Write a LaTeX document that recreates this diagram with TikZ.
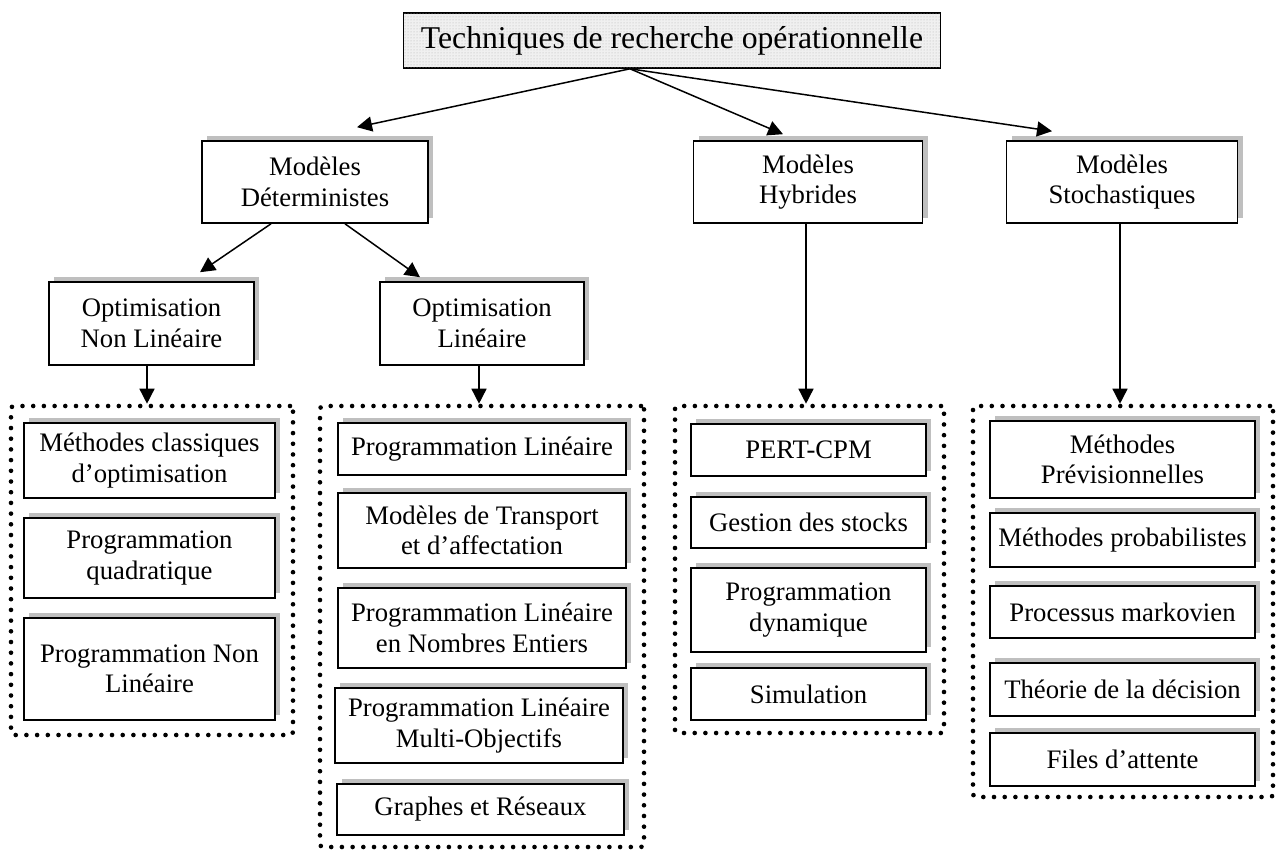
\documentclass[tikz,border=0pt]{standalone}
\usepackage{fontspec}
\setmainfont{Liberation Serif}
\usetikzlibrary{calc,arrows.meta,shadows,patterns}
\tikzset{
	% ---- default
	every path/.style={line width=1.6pt},
	every node/.style={font=\fontsize{26.7}{30.5}\selectfont},
	% ---- custom
	title box/.style={draw, rectangle, inner sep=0pt, fill=gray!12,
		postaction={pattern=dots, pattern color=gray!60},
		font=\fontsize{31.7}{36}\selectfont},
	model box/.style={draw, rectangle, inner sep=0pt, align=center, fill=white,
		drop shadow={shadow xshift=5pt, shadow yshift=5pt, fill=gray!50, opacity=1}},
	method frame/.style={draw, rectangle, inner sep=0pt, line width=4.6pt,
		dash pattern=on 0pt off 10.7pt, line cap=round, rounded corners=3pt},
	link/.style={-{Triangle[length=15pt, width=15pt]}, line width=1.5pt},
}

\begin{document}
\begin{tikzpicture}[x=1pt, y=-1pt]

	\useasboundingbox (0,0) rectangle (1277,851);

% racine %{{{2

	\node[title box, minimum width=537pt, minimum height=55pt] (TRO) at (672,40.5)
		{Techniques de recherche opérationnelle};

% modeles %{{{2

	\node[model box, minimum width=226pt, minimum height=82pt] (MD) at (315,182)
		{Modèles\\Déterministes};
	\node[model box, minimum width=229pt, minimum height=82pt] (MH) at (808,182)
		{Modèles\\Hybrides};
	\node[model box, minimum width=231pt, minimum height=82pt] (MS) at (1122,182)
		{Modèles\\Stochastiques};

% optimisation %{{{2

	\node[model box, minimum width=205pt, minimum height=83pt] (ONL) at (151.5,323.5)
		{Optimisation\\Non Linéaire};
	\node[model box, minimum width=204pt, minimum height=83pt] (OL) at (482,323.5)
		{Optimisation\\Linéaire};

% cadres pointilles %{{{2

	\node[method frame, minimum width=282pt, minimum height=329pt] (F1) at (152,570.5) {};
	\node[method frame, minimum width=324pt, minimum height=441pt] (F2) at (482,626.5) {};
	\node[method frame, minimum width=269pt, minimum height=327pt] (F3) at (809.5,569.5) {};
	\node[method frame, minimum width=300pt, minimum height=391pt] (F4) at (1123,601.5) {};

% methodes non lineaires %{{{2

	\node[model box, minimum width=251pt, minimum height=75pt] (L11) at (149.5,460.5)
		{Méthodes classiques\\d’optimisation};
	\node[model box, minimum width=251pt, minimum height=80pt] (L12) at (149.5,558)
		{Programmation\\quadratique};
	\node[model box, minimum width=251pt, minimum height=102pt] (L13) at (149.5,669)
		{Programmation Non\\Linéaire};

% methodes lineaires %{{{2

	\node[model box, minimum width=288pt, minimum height=52pt] (L21) at (482,449)
		{Programmation Linéaire};
	\node[model box, minimum width=288pt, minimum height=75pt] (L22) at (482,530.5)
		{Modèles de Transport\\et d’affectation};
	\node[model box, minimum width=288pt, minimum height=80pt] (L23) at (482,628)
		{Programmation Linéaire\\en Nombres Entiers};
	\node[model box, minimum width=288pt, minimum height=75pt] (L24) at (479,725.5)
		{Programmation Linéaire\\Multi-Objectifs};
	\node[model box, minimum width=287pt, minimum height=51pt] (L25) at (480.5,809.5)
		{Graphes et Réseaux};

% methodes hybrides %{{{2

	\node[model box, minimum width=235pt, minimum height=52pt] (L31) at (808.5,450)
		{PERT-CPM};
	\node[model box, minimum width=235pt, minimum height=51pt] (L32) at (808.5,522.5)
		{Gestion des stocks};
	\node[model box, minimum width=235pt, minimum height=84pt] (L33) at (808.5,610)
		{Programmation\\dynamique};
	\node[model box, minimum width=235pt, minimum height=52pt] (L34) at (808.5,694)
		{Simulation};

% methodes stochastiques %{{{2

	\node[model box, minimum width=265pt, minimum height=77pt] (L41) at (1122.5,459.5)
		{Méthodes\\Prévisionnelles};
	\node[model box, minimum width=265pt, minimum height=54pt] (L42) at (1122.5,540)
		{Méthodes probabilistes};
	\node[model box, minimum width=265pt, minimum height=52pt] (L43) at (1122.5,612)
		{Processus markovien};
	\node[model box, minimum width=265pt, minimum height=53pt] (L44) at (1122.5,689.5)
		{Théorie de la décision};
	\node[model box, minimum width=265pt, minimum height=53pt] (L45) at (1122.5,759.5)
		{Files d’attente};

% fleches %{{{2

	\coordinate (src) at ($(TRO.south)+(-42,0)$);

	\draw[link] (src) -- ($(MD.north)+(42,-13)$);
	\draw[link] (src) -- ($(MH.north)+(-25,-6)$);
	\draw[link] (src) -- ($(MS.north)+(-70,-9)$);

	\draw[link] ($(MD.south)+(-44,0)$) -- ($(ONL.north)+(48.5,-9)$);
	\draw[link] ($(MD.south)+(30,0)$) -- ($(OL.north)+(-62,-4)$);

	\draw[link] ($(ONL.south)+(-4.5,0)$) -- ($(F1.north)+(-5,0)$);
	\draw[link] ($(OL.south)+(-3,0)$) -- ($(F2.north)+(-3,0)$);
	\draw[link] ($(MH.south)+(-2,0)$) -- ($(F3.north)+(-3.5,0)$);
	\draw[link] ($(MS.south)+(-2,0)$) -- ($(F4.north)+(-3,0)$);

% closing %{{{2

\end{tikzpicture}
\end{document}
